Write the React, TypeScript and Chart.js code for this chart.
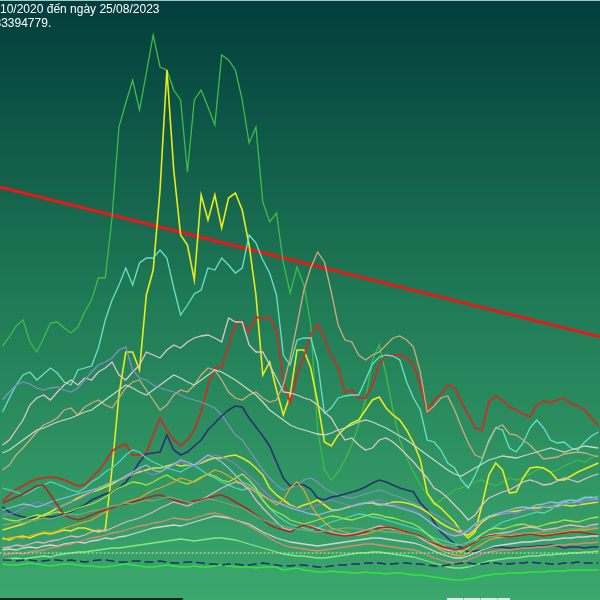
import React, { useEffect, useRef } from "react";
import { Chart, registerables } from "chart.js";

Chart.register(...registerables);

const TITLE_LINE_1 = "10/2020 đến ngày 25/08/2023";
const TITLE_LINE_2 = "83394779.";

const X_MIN = -0.365;
const X_MAX = 87.23;

const TREND_X = [-1, 88];
const TREND_VALUES = [414, 262];

const AVG_LEVEL = 47;

const PEAK_GREEN = [254, 263, 274, 280, 258, 248, 262, 277, 278, 272, 267, 273, 288, 300, 322, 322, 383, 473, 497, 520, 490, 527, 565, 533, 530, 510, 500, 428, 500, 510, 493, 475, 545, 540, 530, 500, 457, 473, 398, 378, 387, 337, 307, 333, 315, 275, 170, 130, 120, 128, 140, 155, 175, 200, 240, 255, 225, 190, 160, 142, 128, 115, 105, 95, 100, 105, 110, 112, 115, 118, 120, 117, 114, 118, 122, 120, 122, 126, 130, 132, 128, 130, 134, 137, 140, 138, 142, 145];

const PEAK_YELLOW = [62, 60, 63, 64, 62, 65, 67, 66, 68, 70, 69, 72, 72, 70, 68, 70, 132, 205, 248, 248, 230, 305, 330, 410, 530, 430, 365, 355, 320, 405, 380, 405, 372, 402, 407, 390, 355, 305, 225, 238, 210, 185, 205, 250, 250, 232, 198, 158, 154, 165, 172, 177, 180, 190, 200, 203, 192, 185, 180, 170, 157, 140, 107, 97, 92, 85, 78, 68, 62, 68, 95, 125, 137, 130, 107, 108, 122, 132, 133, 132, 128, 120, 120, 124, 128, 131, 134, 137];

const AQUA = [188, 202, 215, 225, 228, 220, 226, 232, 227, 218, 215, 230, 232, 234, 252, 280, 300, 315, 332, 315, 337, 342, 342, 350, 342, 312, 285, 295, 306, 310, 332, 330, 342, 335, 327, 332, 365, 357, 340, 327, 305, 245, 235, 260, 262, 262, 238, 187, 192, 202, 204, 205, 205, 220, 236, 243, 245, 244, 240, 218, 202, 190, 160, 158, 150, 137, 132, 120, 112, 125, 140, 160, 172, 170, 152, 148, 157, 172, 180, 172, 160, 157, 158, 152, 150, 158, 164, 168];

const BRICK = [99, 105, 111, 114, 118, 121, 122, 123, 122, 120, 117, 114, 115, 122, 129, 138, 149, 153, 156, 145, 145, 147, 165, 182, 170, 160, 154, 160, 170, 188, 215, 232, 233, 255, 275, 278, 268, 283, 281, 283, 270, 220, 197, 225, 244, 265, 276, 262, 244, 232, 207, 210, 202, 202, 215, 235, 245, 245, 245, 243, 235, 215, 188, 200, 206, 215, 212, 198, 185, 172, 170, 198, 204, 200, 193, 190, 186, 183, 195, 199, 197, 200, 202, 196, 194, 190, 182, 174];

const TAN = [130, 135, 145, 152, 160, 168, 175, 178, 182, 190, 192, 185, 193, 197, 200, 195, 192, 202, 212, 218, 220, 210, 200, 190, 195, 205, 210, 208, 215, 225, 232, 230, 220, 208, 202, 200, 205, 208, 202, 198, 200, 215, 242, 275, 310, 332, 348, 338, 308, 275, 260, 258, 245, 240, 245, 248, 255, 262, 264, 260, 253, 228, 188, 194, 202, 204, 190, 173, 157, 145, 142, 158, 172, 175, 166, 165, 160, 155, 148, 141, 142, 143, 146, 147, 148, 147, 145, 143];

const ROSE_WHITE = [155, 160, 170, 180, 195, 202, 205, 200, 208, 215, 220, 215, 222, 220, 228, 232, 238, 225, 220, 228, 235, 248, 245, 242, 250, 255, 252, 258, 262, 264, 265, 262, 258, 282, 278, 278, 255, 248, 248, 235, 222, 208, 207, 205, 202, 200, 195, 188, 182, 170, 160, 162, 155, 150, 152, 160, 162, 158, 152, 145, 138, 130, 122, 112, 108, 102, 95, 88, 80, 85, 95, 102, 105, 108, 110, 114, 118, 120, 118, 115, 116, 119, 122, 120, 118, 121, 124, 126];

const PALE = [147, 150, 155, 160, 165, 170, 172, 175, 178, 180, 182, 185, 188, 190, 195, 200, 205, 210, 215, 212, 208, 205, 210, 215, 220, 225, 222, 218, 215, 220, 225, 230, 228, 224, 220, 215, 210, 205, 198, 190, 185, 180, 175, 172, 170, 168, 166, 165, 167, 170, 172, 175, 178, 180, 178, 175, 172, 168, 164, 160, 155, 150, 145, 140, 135, 130, 126, 124, 128, 132, 136, 140, 142, 144, 143, 142, 144, 146, 148, 150, 152, 150, 148, 150, 152, 154, 153, 152];

const SLATE = [200, 208, 215, 218, 216, 212, 210, 212, 213, 210, 208, 212, 220, 228, 235, 238, 242, 250, 253, 230, 222, 220, 215, 212, 210, 208, 205, 202, 200, 198, 195, 192, 185, 175, 165, 160, 150, 140, 130, 122, 115, 110, 112, 115, 120, 122, 118, 112, 108, 105, 103, 102, 104, 106, 108, 110, 108, 105, 103, 100, 97, 94, 90, 86, 82, 78, 74, 70, 68, 72, 78, 82, 84, 86, 87, 88, 90, 91, 92, 93, 94, 95, 96, 97, 98, 99, 100, 101];

const NAVY = [93, 88, 85, 83, 82, 83, 83, 83, 84, 86, 88, 92, 95, 100, 103, 106, 108, 112, 118, 127, 138, 146, 147, 148, 165, 150, 145, 148, 154, 160, 170, 177, 184, 190, 194, 193, 182, 173, 164, 154, 138, 122, 114, 116, 115, 111, 102, 100, 103, 104, 106, 108, 110, 113, 117, 120, 118, 115, 112, 110, 108, 97, 90, 78, 68, 62, 56, 52, 48, 49, 50, 52, 53, 53, 52, 52, 53, 53, 54, 54, 55, 54, 52, 53, 53, 52, 53, 53];

const BAND_YELLOW = [70, 72, 74, 76, 79, 82, 85, 88, 92, 95, 98, 102, 105, 108, 110, 113, 116, 120, 123, 126, 128, 130, 132, 132, 134, 136, 134, 135, 135, 137, 140, 142, 142, 144, 145, 142, 138, 132, 125, 112, 105, 100, 95, 92, 95, 97, 100, 95, 90, 90, 92, 94, 95, 97, 97, 95, 96, 98, 98, 97, 95, 92, 88, 82, 77, 73, 70, 67, 65, 70, 78, 83, 85, 87, 88, 89, 90, 92, 92, 93, 93, 94, 95, 94, 95, 96, 97, 98];

const BAND_LIME = [82, 80, 79, 81, 83, 85, 84, 86, 88, 87, 89, 92, 94, 96, 99, 103, 108, 112, 115, 118, 117, 115, 118, 122, 125, 121, 118, 116, 119, 123, 126, 124, 120, 118, 122, 126, 120, 112, 100, 92, 88, 85, 80, 78, 76, 78, 80, 82, 84, 83, 81, 80, 82, 84, 86, 85, 83, 82, 80, 78, 76, 72, 66, 60, 56, 52, 50, 48, 52, 60, 66, 70, 72, 71, 73, 75, 76, 74, 73, 75, 77, 78, 80, 79, 78, 80, 82, 83];

const BAND_PINK = [52, 53, 55, 54, 56, 58, 57, 59, 60, 62, 64, 63, 65, 68, 70, 69, 72, 75, 78, 80, 82, 85, 88, 92, 95, 98, 96, 94, 97, 100, 104, 108, 112, 115, 118, 116, 110, 100, 92, 85, 78, 72, 70, 72, 75, 74, 72, 70, 68, 66, 65, 66, 68, 70, 72, 74, 73, 71, 70, 68, 66, 62, 58, 55, 52, 50, 49, 50, 54, 58, 62, 65, 66, 67, 68, 70, 72, 73, 72, 70, 71, 72, 74, 75, 74, 73, 75, 76];

const BAND_TURQUOISE = [112, 110, 108, 105, 108, 112, 115, 118, 116, 113, 110, 108, 112, 118, 122, 128, 132, 138, 145, 150, 148, 142, 138, 135, 132, 130, 128, 132, 135, 130, 125, 122, 118, 115, 112, 110, 112, 108, 100, 92, 85, 80, 76, 74, 72, 70, 72, 75, 78, 80, 82, 84, 86, 85, 83, 82, 80, 78, 76, 74, 72, 70, 66, 62, 60, 58, 56, 55, 58, 62, 66, 70, 74, 78, 80, 82, 84, 86, 88, 87, 90, 95, 98, 97, 100, 103, 102, 104];

const BAND_ORANGE = [60, 62, 63, 62, 64, 66, 68, 67, 69, 72, 74, 76, 78, 80, 84, 88, 92, 95, 98, 100, 102, 106, 110, 112, 115, 118, 122, 120, 118, 122, 126, 130, 128, 124, 120, 116, 112, 108, 104, 100, 95, 100, 112, 118, 110, 95, 85, 78, 72, 70, 68, 66, 65, 66, 68, 70, 72, 71, 69, 67, 65, 62, 58, 54, 50, 47, 45, 44, 47, 52, 56, 60, 62, 63, 64, 65, 66, 67, 66, 65, 66, 67, 68, 69, 70, 70, 71, 72];

const BAND_SILVER = [50, 51, 50, 52, 53, 52, 54, 55, 54, 56, 57, 58, 57, 59, 60, 62, 61, 63, 64, 66, 68, 70, 72, 73, 74, 75, 74, 76, 78, 80, 82, 84, 83, 82, 80, 78, 76, 72, 68, 65, 62, 60, 58, 57, 56, 55, 54, 55, 56, 57, 58, 59, 60, 61, 62, 62, 61, 60, 59, 58, 57, 55, 52, 49, 46, 44, 42, 42, 44, 47, 50, 52, 54, 55, 56, 57, 58, 58, 59, 60, 60, 61, 62, 62, 63, 63, 64, 64];

const BAND_RED = [97, 100, 103, 106, 110, 114, 115, 105, 95, 85, 82, 80, 82, 85, 88, 90, 92, 95, 96, 98, 100, 102, 104, 105, 103, 100, 98, 97, 99, 100, 102, 104, 105, 102, 98, 94, 90, 85, 80, 75, 72, 70, 68, 72, 75, 73, 70, 68, 66, 65, 64, 65, 66, 68, 70, 72, 73, 72, 70, 68, 66, 64, 60, 57, 54, 52, 50, 51, 54, 58, 62, 64, 65, 64, 63, 64, 65, 66, 65, 64, 65, 66, 67, 68, 68, 67, 66, 65];

const BAND_SKY = [90, 92, 94, 96, 95, 93, 95, 98, 100, 102, 104, 106, 108, 110, 112, 115, 118, 120, 124, 128, 132, 135, 130, 128, 132, 136, 140, 138, 135, 140, 145, 142, 138, 132, 125, 118, 115, 110, 105, 100, 98, 95, 92, 90, 88, 86, 85, 87, 89, 90, 92, 94, 96, 97, 98, 96, 95, 94, 92, 90, 88, 85, 80, 75, 70, 66, 64, 65, 70, 76, 80, 84, 86, 88, 90, 92, 93, 92, 95, 96, 98, 97, 99, 100, 99, 102, 103, 101];

const BAND_SAGE = [75, 76, 78, 77, 79, 80, 82, 81, 83, 85, 86, 85, 87, 89, 90, 92, 94, 95, 97, 96, 98, 100, 99, 101, 103, 102, 100, 98, 97, 99, 101, 100, 98, 96, 94, 92, 88, 84, 80, 78, 76, 74, 72, 71, 70, 69, 68, 69, 70, 71, 72, 72, 71, 70, 70, 69, 68, 68, 67, 66, 65, 63, 60, 58, 56, 55, 54, 55, 57, 59, 61, 63, 64, 65, 65, 66, 67, 67, 68, 68, 69, 70, 70, 71, 71, 72, 72, 73];

const BAND_SALMON = [45, 46, 47, 46, 48, 49, 50, 52, 53, 55, 56, 58, 60, 62, 63, 65, 67, 68, 70, 72, 74, 75, 77, 78, 80, 82, 81, 80, 82, 84, 86, 87, 85, 83, 80, 77, 74, 70, 66, 62, 58, 55, 53, 52, 51, 50, 49, 50, 51, 52, 53, 54, 55, 56, 56, 55, 54, 53, 52, 51, 50, 48, 45, 42, 40, 38, 37, 38, 40, 43, 46, 48, 49, 50, 50, 51, 52, 52, 53, 53, 54, 55, 55, 56, 56, 57, 57, 58];

const BAND_MINT = [40, 41, 42, 41, 42, 43, 44, 43, 45, 46, 47, 48, 48, 49, 50, 51, 52, 52, 53, 54, 55, 56, 57, 58, 59, 60, 61, 60, 59, 60, 61, 62, 62, 61, 60, 58, 56, 54, 52, 50, 48, 46, 45, 44, 44, 43, 42, 42, 43, 44, 45, 46, 47, 47, 48, 48, 47, 46, 45, 44, 43, 41, 39, 37, 35, 33, 32, 32, 33, 35, 37, 39, 40, 41, 42, 42, 43, 44, 44, 45, 45, 46, 46, 47, 47, 48, 48, 49];

const BAND_LAVENDER = [85, 86, 88, 92, 95, 98, 96, 94, 92, 95, 98, 100, 104, 108, 112, 115, 118, 120, 123, 126, 130, 128, 125, 128, 132, 135, 138, 136, 134, 138, 142, 145, 143, 140, 136, 130, 124, 118, 110, 104, 98, 96, 94, 92, 90, 92, 95, 98, 100, 98, 96, 94, 95, 97, 99, 100, 98, 96, 94, 92, 90, 86, 80, 74, 70, 68, 66, 67, 70, 75, 80, 84, 86, 87, 88, 86, 90, 91, 89, 93, 94, 92, 96, 97, 95, 99, 100, 98];

const BASE_GREEN = [36, 35, 35, 36, 37, 36, 35, 34, 35, 36, 36, 35, 34, 34, 33, 33, 34, 35, 36, 35, 34, 33, 33, 34, 35, 34, 33, 33, 34, 33, 33, 34, 35, 34, 33, 33, 33, 32, 33, 33, 33, 30, 31, 32, 30, 29, 28, 28, 29, 28, 28, 27, 27, 28, 27, 27, 26, 27, 27, 26, 25, 25, 24, 23, 22, 21, 20, 20, 21, 22, 24, 25, 26, 26, 27, 27, 27, 28, 28, 28, 29, 29, 29, 30, 30, 30, 30, 30];

const BASE_NAVY = [40, 40, 39, 40, 40, 39, 39, 40, 40, 39, 40, 39, 38, 39, 40, 40, 39, 38, 38, 39, 39, 38, 38, 39, 38, 37, 37, 38, 38, 37, 36, 36, 35, 36, 36, 35, 35, 36, 37, 36, 35, 34, 34, 35, 35, 34, 33, 33, 34, 35, 35, 36, 36, 37, 37, 37, 36, 36, 37, 37, 36, 36, 35, 34, 34, 35, 36, 37, 37, 36, 36, 37, 37, 36, 36, 37, 37, 38, 37, 37, 36, 36, 37, 37, 38, 37, 37, 37];

const toPoints = (values: number[]) => values.map((y, i) => ({ x: i, y }));

function line(values: number[], color: string, width = 1.3, extra: Record<string, unknown> = {}) {
  return {
    data: toPoints(values),
    borderColor: color,
    borderWidth: width,
    pointRadius: 0,
    tension: 0,
    fill: false,
    ...extra,
  };
}

const backgroundPlugin = {
  id: "bg",
  beforeDraw(chart: Chart) {
    const { ctx, width, height } = chart;
    const g = ctx.createLinearGradient(0, 0, 0, height);
    g.addColorStop(0, "#023d3c");
    g.addColorStop(0.5, "#1f7a56");
    g.addColorStop(1, "#3ca86d");
    ctx.save();
    ctx.fillStyle = g;
    ctx.fillRect(0, 0, width, height);
    ctx.restore();
  },
  afterDraw(chart: Chart) {
    const { ctx, width } = chart;
    ctx.save();
    ctx.fillStyle = "#9cc8c4";
    ctx.fillRect(0, 0, width, 1);
    ctx.fillStyle = "#ffffff";
    ctx.font = "12px 'Liberation Sans', Arial, sans-serif";
    ctx.textBaseline = "alphabetic";
    ctx.fillText(TITLE_LINE_1, 0, 13);
    ctx.fillText(TITLE_LINE_2, -5.5, 27);
    ctx.fillStyle = "#0c2a1c";
    ctx.fillRect(0, 598, 183, 2);
    ctx.fillStyle = "#d6ece4";
    ctx.fillRect(447, 598, 63, 2);
    ctx.fillStyle = "#8fbfae";
    ctx.fillRect(463, 598, 1, 2);
    ctx.fillRect(480, 598, 1, 2);
    ctx.fillRect(497, 598, 1, 2);
    ctx.restore();
  },
};

export default function App() {
  const ref = useRef<HTMLCanvasElement | null>(null);

  useEffect(() => {
    if (!ref.current) return;
    const chart = new Chart(ref.current, {
      type: "line",
      data: {
        datasets: [
          line([AVG_LEVEL, AVG_LEVEL], "#e6e2a8", 1, { data: TREND_X.map((x) => ({ x, y: AVG_LEVEL })), borderDash: [2, 2] }),
          line(BASE_NAVY, "#262c6a", 1.5, { borderDash: [9, 4] }),
          line(BASE_GREEN, "#2ee83a", 1.6),
          line(BAND_MINT, "#84ea7e"),
          line(BAND_SALMON, "#dc8a6e"),
          line(BAND_SAGE, "#76a676"),
          line(BAND_SILVER, "#d4d4d4"),
          line(BAND_RED, "#a82a24", 1.6),
          line(BAND_PINK, "#e6b2c2"),
          line(BAND_ORANGE, "#e0a634"),
          line(BAND_LIME, "#a6e63c"),
          line(BAND_SKY, "#94bce2"),
          line(BAND_LAVENDER, "#8a7cc8"),
          line(BAND_TURQUOISE, "#4ed8c0"),
          line(BAND_YELLOW, "#e4e430", 1.6),
          line(NAVY, "#2c2f72", 1.6),
          line(SLATE, "#7c92c4"),
          line(PALE, "#c6d8c6"),
          line(ROSE_WHITE, "#e0c6c6"),
          line(TAN, "#d2aa7c"),
          line(AQUA, "#6ae0cc"),
          line(BRICK, "#b8382a", 2),
          line(PEAK_YELLOW, "#eaea1c", 1.6),
          line(PEAK_GREEN, "#40bc48", 1.3),
          line(TREND_VALUES, "#e41a1a", 3, { data: TREND_X.map((x, i) => ({ x, y: TREND_VALUES[i] })) }),
        ],
      },
      options: {
        animation: false,
        responsive: false,
        devicePixelRatio: 1,
        layout: { padding: 0 },
        parsing: false as unknown as undefined,
        plugins: { legend: { display: false }, tooltip: { enabled: false }, title: { display: false } },
        scales: {
          x: { type: "linear", min: X_MIN, max: X_MAX, display: false },
          y: { type: "linear", min: 0, max: 600, display: false },
        },
        elements: { point: { radius: 0 }, line: { tension: 0 } },
      },
      plugins: [backgroundPlugin],
    });
    return () => chart.destroy();
  }, []);

  return (
    <div style={{ position: "absolute", left: 0, top: 0, width: 600, height: 600 }}>
      <canvas ref={ref} width={600} height={600} style={{ display: "block" }} />
    </div>
  );
}
